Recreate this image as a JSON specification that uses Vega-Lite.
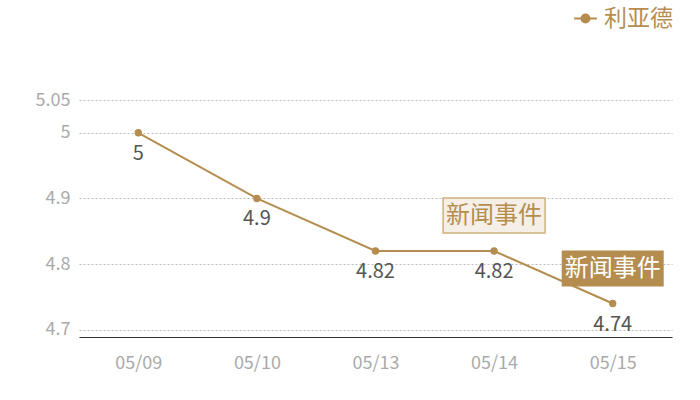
{
  "$schema": "https://vega.github.io/schema/vega-lite/v6.json",
  "width": 593,
  "height": 237,
  "autosize": {"type": "none"},
  "padding": {"left": 79, "top": 100, "right": 28, "bottom": 63},
  "background": "white",
  "config": {
    "view": {"stroke": null},
    "font": "Noto Sans CJK SC"
  },
  "datasets": {
    "price": [
      {"date": "05/09", "value": 5, "series": "利亚德"},
      {"date": "05/10", "value": 4.9, "series": "利亚德"},
      {"date": "05/13", "value": 4.82, "series": "利亚德"},
      {"date": "05/14", "value": 4.82, "series": "利亚德"},
      {"date": "05/15", "value": 4.74, "series": "利亚德"}
    ],
    "events": [
      {"date": "05/14", "value": 4.82, "label": "新闻事件", "kind": "light"},
      {"date": "05/15", "value": 4.74, "label": "新闻事件", "kind": "dark"}
    ]
  },
  "encoding": {
    "x": {
      "field": "date",
      "type": "ordinal",
      "sort": null,
      "scale": {"type": "point", "padding": 0.5},
      "axis": {
        "title": null,
        "labelAngle": 0,
        "labelColor": "#aaaaaa",
        "labelFontSize": 18,
        "labelPadding": 17,
        "ticks": false,
        "domainColor": "#333333",
        "domainWidth": 1.2,
        "grid": false
      }
    },
    "y": {
      "field": "value",
      "type": "quantitative",
      "scale": {"domain": [4.689, 5.05], "nice": false, "zero": false},
      "axis": {
        "title": null,
        "values": [4.7, 4.8, 4.9, 5, 5.05],
        "format": ".3~g",
        "labelColor": "#aaaaaa",
        "labelFontSize": 18,
        "labelPadding": 9,
        "ticks": false,
        "domain": false,
        "gridColor": "#bbbbbb",
        "gridDash": [2, 2],
        "gridWidth": 1
      }
    }
  },
  "layer": [
    {
      "data": {"name": "price"},
      "mark": {"type": "line", "color": "#b58d4f", "strokeWidth": 2}
    },
    {
      "data": {"name": "price"},
      "mark": {"type": "circle", "size": 55, "opacity": 1},
      "encoding": {
        "color": {
          "field": "series",
          "type": "nominal",
          "scale": {"range": ["#b58d4f"]},
          "legend": {
            "title": null,
            "orient": "none",
            "legendX": 494,
            "legendY": -94,
            "padding": 0,
            "symbolType": "M-1,0 L-0.35,0 M0.35,0 L1,0 M-0.35,0 A0.35,0.35 0 1,1 0.35,0 A0.35,0.35 0 1,1 -0.35,0",
            "symbolSize": 520,
            "symbolStrokeColor": "#b58d4f",
            "symbolStrokeWidth": 2,
            "symbolOpacity": 1,
            "labelColor": "#b58d4f",
            "labelFontSize": 23,
            "labelOffset": 6
          }
        }
      }
    },
    {
      "data": {"name": "price"},
      "mark": {"type": "text", "dy": 21, "baseline": "middle", "fontSize": 20, "color": "#555555"},
      "encoding": {"text": {"field": "value", "type": "quantitative", "format": ".3~g"}}
    },
    {
      "data": {"name": "events"},
      "transform": [{"filter": "datum.kind == 'light'"}],
      "mark": {"type": "rect", "xOffset": -51, "x2Offset": 51, "yOffset": -53, "y2Offset": -18, "fill": "#f5efe7", "stroke": "#cfb07c", "strokeWidth": 1.5},
      "encoding": {"x2": {"field": "date"}, "y2": {"field": "value"}}
    },
    {
      "data": {"name": "events"},
      "transform": [{"filter": "datum.kind == 'dark'"}],
      "mark": {"type": "rect", "xOffset": -51, "x2Offset": 51, "yOffset": -53, "y2Offset": -17, "fill": "#b58d4f"},
      "encoding": {"x2": {"field": "date"}, "y2": {"field": "value"}}
    },
    {
      "data": {"name": "events"},
      "mark": {"type": "text", "dy": -35, "baseline": "middle", "fontSize": 24},
      "encoding": {
        "text": {"field": "label"},
        "color": {
          "condition": {"test": "datum.kind == 'dark'", "value": "#ffffff"},
          "value": "#b58d4f"
        }
      }
    }
  ]
}
